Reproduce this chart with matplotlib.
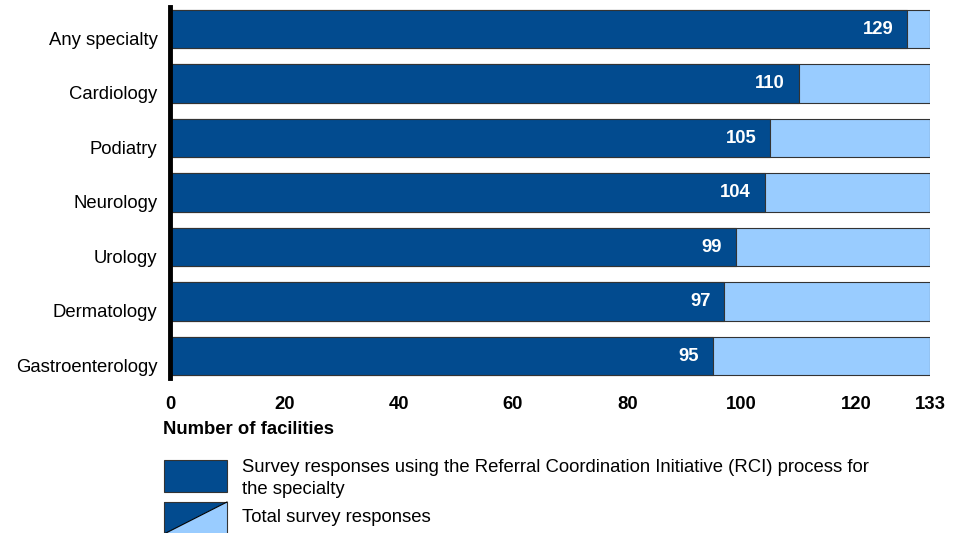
import numpy as np
import matplotlib.pyplot as plt
import matplotlib.transforms as mtransforms
from matplotlib.patches import Rectangle, Polygon

# Datos
especialidades = ["Any specialty", "Cardiology", "Podiatry", "Neurology",
                  "Urology", "Dermatology", "Gastroenterology"]
usando_rci = [129, 110, 105, 104, 99, 97, 95]
total = [133, 133, 133, 133, 133, 133, 133]
ticks_x = [0, 20, 40, 60, 80, 100, 120, 133]

oscuro = "#024b8f"
claro = "#99ccff"
borde = "#333333"
fs = 13.3

plt.rcParams['font.family'] = ['Liberation Sans', 'DejaVu Sans']

fig = plt.figure(figsize=(9.61, 5.33), dpi=100)
ax = fig.add_axes([0.177, 0.291, 0.791, 0.6955])

y = np.arange(len(especialidades))
ax.barh(y, total, height=0.7, color=claro, edgecolor=borde, linewidth=0.8)
ax.barh(y, usando_rci, height=0.7, color=oscuro, edgecolor=borde, linewidth=0.8)

for yi, v in zip(y, usando_rci):
    ax.annotate(str(v), (v, yi), xytext=(-10, 0), textcoords='offset points',
                ha='right', va='center', color='white', fontsize=fs,
                fontweight='bold')

ax.set_xlim(0, 133)
ax.set_ylim(6.4, -0.4)
ax.set_yticks(y)
ax.set_yticklabels(especialidades, fontsize=fs)
ax.set_xticks(ticks_x)
ax.set_xticklabels([str(t) for t in ticks_x], fontsize=fs, fontweight='bold')
ax.tick_params(axis='both', length=0)
ax.tick_params(axis='x', pad=13)
ax.tick_params(axis='y', pad=9)
# etiquetas de categoria un poco mas abajo, como en el original
desplaza = mtransforms.ScaledTranslation(0, -9 / 100, fig.dpi_scale_trans)
for lab in ax.get_yticklabels():
    lab.set_transform(lab.get_transform() + desplaza)
for s in ['top', 'right', 'bottom']:
    ax.spines[s].set_visible(False)
ax.spines['left'].set_linewidth(3.5)
ax.spines['left'].set_color('black')

fig.text(163 / 961, 1 - 430 / 533, "Number of facilities", fontsize=fs,
         fontweight='bold', ha='left', va='center')

# Leyenda
W, H = 961, 533
def caja(x0, y0, x1, y1):
    return [(x0 / W, 1 - y0 / H), (x1 / W, 1 - y1 / H)]

(a, b), (c, d) = caja(164, 460, 227, 492)
fig.patches.append(Rectangle((a, d), c - a, b - d, transform=fig.transFigure,
                             facecolor=oscuro, edgecolor=borde, linewidth=0.8))
fig.text(242 / W, 1 - 468 / H, "Survey responses using the Referral Coordination Initiative (RCI) process for",
         fontsize=fs, ha='left', va='center')
fig.text(242 / W, 1 - 489 / H, "the specialty", fontsize=fs, ha='left', va='center')

(a, b), (c, d) = caja(164, 502, 227, 534)
fig.patches.append(Polygon([(a, d), (a, b), (c, b)], closed=True, transform=fig.transFigure,
                           facecolor=oscuro, edgecolor='none'))
fig.patches.append(Polygon([(a, d), (c, b), (c, d)], closed=True, transform=fig.transFigure,
                           facecolor=claro, edgecolor='none'))
fig.patches.append(Rectangle((a, d), c - a, b - d, transform=fig.transFigure,
                             facecolor='none', edgecolor=borde, linewidth=0.8))
fig.lines.append(plt.Line2D([a, c], [d, b], transform=fig.transFigure, color='black', linewidth=0.8))
fig.text(242 / W, 1 - 517 / H, "Total survey responses", fontsize=fs, ha='left', va='center')

fig.savefig("out.png", dpi=100)
